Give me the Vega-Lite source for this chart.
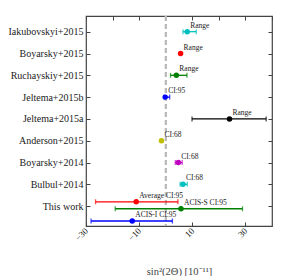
{
  "$schema": "https://vega.github.io/schema/vega-lite/v6.json",
  "width": 186,
  "height": 210,
  "autosize": "none",
  "padding": {"left": 86, "top": 16, "right": 15, "bottom": 50},
  "config": {
    "font": "Liberation Serif",
    "view": {"stroke": "#444444", "strokeWidth": 1.2},
    "axis": {"domain": false, "grid": false, "tickColor": "#444444", "tickSize": -4, "labelFont": "Liberation Serif", "titleFont": "Liberation Serif", "labelColor": "#222222", "titleColor": "#444444", "titleFontWeight": "normal", "labelFontWeight": "normal", "labelOverlap": false, "labelBound": false}
  },
  "data": {"values": [
    {"cat": "Iakubovskyi+2015", "row": 0, "series": "Iakubovskyi+2015", "x": 8.1, "lo": 6.5, "hi": 11.5, "label": "Range"},
    {"cat": "Boyarsky+2015", "row": 1, "series": "Boyarsky+2015", "x": 5.6, "lo": null, "hi": null, "label": "Range"},
    {"cat": "Ruchayskiy+2015", "row": 2, "series": "Ruchayskiy+2015", "x": 4.0, "lo": 1.8, "hi": 8.0, "label": "Range"},
    {"cat": "Jeltema+2015b", "row": 3, "series": "Jeltema+2015b", "x": -0.2, "lo": -0.6, "hi": 1.5, "label": "CI:95"},
    {"cat": "Jeltema+2015a", "row": 4, "series": "Jeltema+2015a", "x": 24, "lo": 9.9, "hi": 37.8, "label": "Range"},
    {"cat": "Anderson+2015", "row": 5, "series": "Anderson+2015", "x": -1.6, "lo": null, "hi": null, "label": "CI:68"},
    {"cat": "Boyarsky+2014", "row": 6, "series": "Boyarsky+2014", "x": 4.75, "lo": 3.6, "hi": 6.2, "label": "CI:68"},
    {"cat": "Bulbul+2014", "row": 7, "series": "Bulbul+2014", "x": 6.5, "lo": 5.4, "hi": 8.1, "label": "CI:68"},
    {"cat": "This work", "row": 7.8, "series": "Average", "x": -11.1, "lo": -26.4, "hi": 4.6, "label": "Average CI:95"},
    {"cat": "This work", "row": 8.12, "series": "ACIS-S", "x": 5.75, "lo": -19, "hi": 28.9, "label": "ACIS-S CI:95"},
    {"cat": "This work", "row": 8.68, "series": "ACIS-I", "x": -12.6, "lo": -28.1, "hi": 2.5, "label": "ACIS-I CI:95"}
  ]},
  "layer": [
    {
      "encoding": {
        "y": {"field": "row", "type": "quantitative", "scale": {"domain": [-0.72, 8.91], "reverse": true, "nice": false, "zero": false}, "axis": {"title": null, "values": [0, 1, 2, 3, 4, 5, 6, 7, 8], "labelFontSize": 10, "labelPadding": 7, "labelOverlap": false, "labelExpr": "['Iakubovskyi+2015','Boyarsky+2015','Ruchayskiy+2015','Jeltema+2015b','Jeltema+2015a','Anderson+2015','Boyarsky+2014','Bulbul+2014','This work'][datum.value]"}},
        "color": {"field": "series", "type": "nominal", "legend": null, "scale": {"domain": ["Iakubovskyi+2015", "Boyarsky+2015", "Ruchayskiy+2015", "Jeltema+2015b", "Jeltema+2015a", "Anderson+2015", "Boyarsky+2014", "Bulbul+2014", "Average", "ACIS-S", "ACIS-I"], "range": ["#00bfbf", "#ff0000", "#008000", "#0000ff", "#000000", "#bfbf00", "#bf00bf", "#00bfbf", "#ff0000", "#008000", "#0000ff"]}}
      },
      "layer": [
        {
          "mark": {"type": "rule", "color": "#bbbbbb", "strokeDash": [5, 3], "strokeWidth": 1.5},
          "encoding": {"x": {"datum": 0, "type": "quantitative", "scale": {"domain": [-30, 40], "nice": false, "zero": false}, "axis": {"title": "sin²(2Θ) [10⁻¹¹]", "titleFontSize": 10.5, "titlePadding": 24, "values": [-30, -20, -10, 0, 10, 20, 30, 40], "labelAngle": 315, "labelAlign": "right", "labelBaseline": "middle", "labelFontSize": 9, "labelPadding": 7, "labelOverlap": false, "labelSeparation": 0, "labelFlush": false, "labelBound": false}}, "y": null, "color": null}
        },
        {
          "mark": {"type": "rule", "strokeWidth": 1.3},
          "encoding": {
            "x": {"field": "lo", "type": "quantitative"},
            "x2": {"field": "hi"}
          }
        },
        {
          "mark": {"type": "tick", "orient": "vertical", "size": 5, "thickness": 1.3},
          "encoding": {"x": {"field": "lo", "type": "quantitative"}}
        },
        {
          "mark": {"type": "tick", "orient": "vertical", "size": 5, "thickness": 1.3},
          "encoding": {"x": {"field": "hi", "type": "quantitative"}}
        },
        {
          "mark": {"type": "point", "filled": true, "size": 30, "opacity": 1},
          "encoding": {"x": {"field": "x", "type": "quantitative"}}
        },
        {
          "mark": {"type": "text", "align": "left", "baseline": "bottom", "dx": 3, "dy": -2, "fontSize": 7.5, "color": "#222222"},
          "encoding": {"x": {"field": "x", "type": "quantitative"}, "text": {"field": "label"}, "color": null}
        }
      ]
    },
    {
      "mark": {"type": "point", "opacity": 0},
      "encoding": {
        "x": {"field": "x", "type": "quantitative", "axis": {"orient": "top", "labels": false, "title": null, "values": [-30, -20, -10, 0, 10, 20, 30, 40]}},
        "y": {"field": "row", "type": "quantitative", "axis": {"orient": "right", "labels": false, "title": null, "values": [0, 1, 2, 3, 4, 5, 6, 7, 8]}}
      }
    }
  ],
  "resolve": {"axis": {"x": "independent", "y": "independent"}}
}
